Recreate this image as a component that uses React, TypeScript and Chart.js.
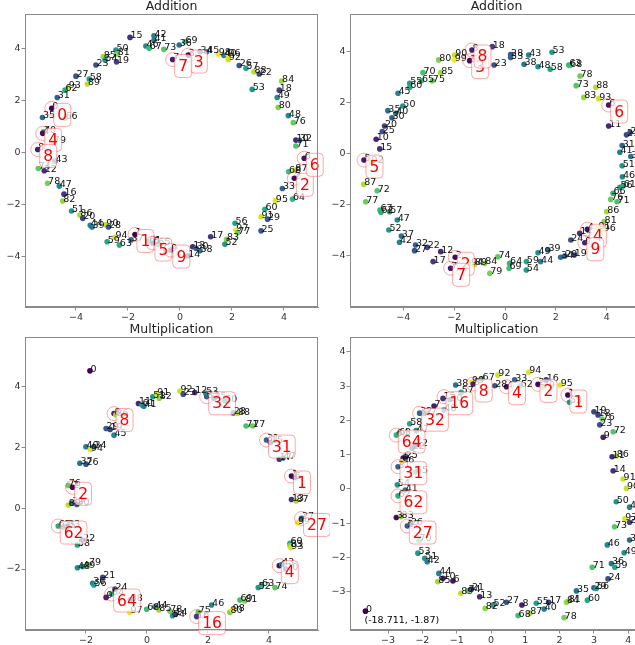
import React, { useEffect, useRef } from "react";
import { Chart, registerables } from "chart.js";
Chart.register(...registerables);

const FONT = "'DejaVu Sans', sans-serif";

// ---------- Panel 1 : Addition (left) ----------
const p1Ids = [15,42,41,46,67,73,36,69,7,3,34,45,98,40,96,92,26,57,88,22,84,18,49,53,27,58,89,50,85,81,54,19,23,93,62,31,0,35,66,70,4,79,8,43,74,12,78,47,16,82,80,48,76,10,32,71,6,68,87,2,33,95,64,51,86,20,44,39,90,28,94,59,63,37,1,61,5,65,9,13,30,38,14,17,56,97,77,83,52,60,91,29,25];
const p1X = [-1.92,-1.0,-1.0,-1.31,-1.18,-0.62,-0.03,0.19,-0.28,0.32,0.77,1.03,1.47,1.69,1.85,1.86,2.28,2.54,2.85,3.05,3.91,3.82,3.74,2.78,-4.0,-3.49,-3.56,-2.46,-2.95,-2.41,-2.88,-2.44,-3.23,-4.3,-4.42,-4.72,-4.93,-5.29,-4.42,-5.25,-5.28,-4.87,-5.47,-4.81,-5.45,-5.22,-5.09,-4.64,-4.46,-4.51,3.78,4.17,4.36,4.46,4.6,4.46,4.78,4.18,4.42,4.4,3.94,3.67,4.33,-4.17,-3.85,-3.74,-3.45,-3.38,-2.85,-2.75,-2.5,-2.8,-2.33,-1.88,-1.73,-1.2,-1.04,-0.85,-0.35,0.49,0.62,0.77,0.3,1.18,2.12,2.15,2.22,1.79,1.73,3.27,3.12,3.37,3.12];
const p1Y = [4.41,4.47,4.3,4.08,3.99,3.95,4.12,4.24,3.56,3.73,3.86,3.86,3.76,3.72,3.74,3.56,3.33,3.22,3.09,3.0,2.73,2.38,2.1,2.41,2.92,2.81,2.62,3.92,3.67,3.77,3.54,3.47,3.35,2.49,2.38,2.1,1.68,1.33,1.3,0.78,0.72,0.4,0.1,-0.35,-0.63,-0.72,-1.2,-1.31,-1.62,-1.88,1.72,1.4,1.13,0.46,0.45,0.23,-0.24,-0.76,-0.69,-1.01,-1.4,-1.87,-1.81,-2.27,-2.42,-2.55,-2.82,-2.88,-2.8,-2.88,-3.28,-3.45,-3.58,-3.38,-3.17,-3.45,-3.5,-3.55,-3.77,-3.64,-3.7,-3.8,-4.0,-3.26,-2.74,-3.0,-3.1,-3.36,-3.55,-2.2,-2.49,-2.58,-3.03];
const p1HlIds = [0,1,2,3,4,5,6,7,8,9];
const p1HlX = [-4.93,-1.73,4.4,0.32,-5.28,-1.04,4.78,-0.28,-5.47,-0.35];
const p1HlY = [1.68,-3.17,-1.01,3.73,0.72,-3.5,-0.24,3.56,0.1,-3.77];

// ---------- Panel 2 : Addition (right) ----------
const p2Ids = [8,18,90,99,3,80,23,28,33,43,53,38,48,58,63,68,78,73,88,83,93,6,70,85,55,65,75,60,45,50,35,40,30,20,25,10,15,5,92,87,72,77,11,21,26,31,41,36,51,46,56,61,66,76,71,67,62,57,47,52,37,42,32,27,22,12,17,2,7,94,89,84,74,79,64,69,59,54,49,39,44,34,29,24,19,14,4,9,91,96,81,86];
const p2X = [-1.3,-0.5,-1.98,-2.0,-1.39,-2.61,-0.43,0.22,0.22,0.93,1.85,0.75,1.3,1.78,2.51,2.55,2.95,2.8,3.57,3.1,3.69,4.08,-3.23,-2.53,-3.75,-3.29,-2.86,-3.75,-4.21,-4.02,-4.61,-4.3,-4.45,-4.74,-4.83,-5.07,-4.93,-5.55,-5.27,-5.56,-5.03,-5.48,4.08,4.78,4.92,4.61,4.52,4.95,4.61,4.62,4.52,4.65,4.25,4.16,4.41,-4.92,-4.88,-4.54,-4.24,-4.57,-4.08,-4.15,-3.52,-3.56,-3.06,-2.53,-2.83,-1.96,-2.14,-1.35,-1.2,-0.8,-0.28,-0.6,0.18,0.16,0.84,0.84,1.3,1.69,1.4,2.19,2.35,2.59,2.72,2.94,3.24,3.14,3.66,3.86,3.9,4.0];
const p2Y = [4.08,4.21,3.88,3.69,3.66,3.69,3.49,3.9,3.78,3.88,3.99,3.52,3.42,3.32,3.49,3.47,3.06,2.68,2.62,2.22,2.17,1.92,3.19,3.19,2.77,2.87,2.87,2.62,2.38,1.88,1.7,1.6,1.42,1.1,0.88,0.58,0.2,-0.24,-0.33,-1.19,-1.44,-1.87,1.1,0.75,0.84,0.33,0.07,-0.1,-0.46,-0.89,-1.31,-1.25,-1.54,-1.78,-1.87,-2.2,-2.28,-2.26,-2.59,-2.98,-3.22,-3.46,-3.57,-3.79,-3.66,-3.83,-4.22,-4.05,-4.48,-4.3,-4.33,-4.29,-4.03,-4.68,-4.29,-4.48,-4.22,-4.55,-3.87,-3.76,-4.22,-4.05,-4.0,-3.37,-3.96,-3.11,-2.95,-3.48,-2.91,-2.98,-2.65,-2.26];
const p2HlIds = [2,3,4,5,6,7,8,9];
const p2HlX = [-1.96,-1.39,3.24,-5.55,4.08,-2.14,-1.3,3.14];
const p2HlY = [-4.05,3.66,-2.95,-0.24,1.92,-4.48,4.08,-3.48];

// ---------- Panel 3 : Multiplication (left) ----------
const p3Ids = [0,92,23,12,53,32,25,50,51,91,82,11,61,41,28,88,71,77,8,86,29,19,45,40,94,34,37,26,76,2,89,39,30,31,15,17,47,1,5,13,87,27,99,62,35,33,58,22,48,49,79,21,36,56,24,64,9,38,97,68,44,85,78,54,14,75,16,46,80,98,69,81,52,63,74,4,43,20,60,83,93];
const p3X = [-1.87,1.08,1.19,1.57,1.93,1.96,2.2,2.55,0.19,0.32,0.4,-0.28,-0.16,-0.1,2.83,2.97,3.25,3.47,-1.08,-1.02,-1.34,-1.21,-1.08,-2.0,-1.85,-1.74,-2.2,-2.0,-2.58,-2.44,-2.58,-2.47,-2.3,3.92,4.05,4.34,4.46,4.74,4.85,4.74,4.89,5.07,4.94,-2.91,-2.75,-2.6,-2.28,-2.11,-2.28,-2.11,-1.92,-1.45,-1.78,-1.74,-1.05,-1.16,-1.34,-0.55,-0.56,-0.01,0.26,0.39,0.75,0.84,0.92,1.68,1.63,2.12,2.72,2.8,3.05,3.21,3.65,3.76,4.2,4.34,4.42,4.55,4.69,4.69,4.72];
const p3Y = [4.5,3.84,3.73,3.79,3.76,3.65,3.6,3.52,3.65,3.74,3.6,3.43,3.38,3.34,3.12,3.1,2.69,2.69,3.1,3.06,2.61,2.58,2.39,2.01,1.92,2.01,1.47,1.44,0.74,0.68,0.1,0.16,0.12,2.23,2.15,1.6,1.64,1.05,1.0,0.28,0.23,-0.34,-0.48,-0.59,-0.62,-0.6,-1.21,-1.05,-1.96,-1.92,-1.85,-2.27,-2.47,-2.52,-2.66,-2.82,-2.93,-3.0,-3.42,-3.32,-3.24,-3.34,-3.38,-3.53,-3.48,-3.42,-3.56,-3.18,-3.42,-3.34,-3.02,-3.05,-2.61,-2.52,-2.61,-1.89,-1.85,-2.0,-1.16,-1.24,-1.3];
const p3HlIds = [1,2,4,8,16,32,64,27,31,62];
const p3HlX = [4.74,-2.44,4.34,-1.08,1.63,1.96,-1.16,5.07,3.92,-2.91];
const p3HlY = [1.05,0.68,-1.89,3.1,-3.56,3.65,-2.82,-0.34,2.23,-0.59];

// ---------- Panel 4 : Multiplication (right) ----------
const p4Ids = [94,92,33,16,95,67,38,99,8,57,28,4,62,2,79,1,53,15,30,19,18,76,23,32,37,48,7,58,47,64,63,12,22,25,5,96,31,65,54,41,62,3,83,27,26,70,53,51,42,44,6,10,85,89,74,21,13,82,52,27,8,55,17,40,87,68,78,84,81,60,35,29,56,24,71,36,59,49,46,34,0,72,9,86,11,14,91,90,50,45,93,20,73];
const p4X = [1.1,0.2,0.69,1.61,2.02,-0.26,-1.03,-0.57,-0.52,-0.87,0.11,0.45,0.85,1.37,1.5,2.24,2.29,-1.4,-1.2,3.0,3.12,3.24,3.17,-2.08,-1.95,-1.37,-1.66,-2.37,-2.18,-2.76,-2.7,-2.2,-2.3,-2.5,-2.56,-2.6,-2.71,-2.2,-2.73,-2.5,-2.71,-2.76,-2.62,-2.44,-2.35,-2.1,-2.13,-1.93,-1.86,-1.52,-1.11,-1.4,-1.55,-0.88,-0.67,-0.57,-0.33,-0.17,0.06,0.45,0.9,1.32,1.68,1.55,1.13,0.79,2.13,2.2,2.25,2.81,2.49,3.0,3.07,3.41,2.95,3.51,3.61,3.88,3.39,4.04,-3.66,3.56,3.27,3.65,3.53,3.56,3.85,3.95,3.65,4.04,3.9,4.04,3.6];
const p4Y = [3.4,3.32,3.18,3.18,3.03,3.21,3.03,3.12,3.06,2.82,3.01,2.98,3.01,3.05,2.98,2.74,2.53,2.64,2.6,2.25,2.16,2.04,1.87,2.21,2.2,2.3,2.42,1.9,1.7,1.57,1.6,1.28,1.19,0.94,0.9,0.8,0.65,0.5,0.12,-0.03,-0.2,-0.83,-0.81,-1.08,-1.02,-1.5,-1.87,-2.02,-2.12,-2.46,-2.68,-2.6,-2.7,-3.04,-2.97,-2.92,-3.14,-3.48,-3.38,-3.3,-3.38,-3.33,-3.3,-3.5,-3.62,-3.69,-3.75,-3.3,-3.27,-3.24,-2.97,-2.88,-2.9,-2.62,-2.28,-2.17,-2.28,-1.86,-1.63,-1.49,-3.56,1.67,1.51,0.96,0.94,0.53,0.29,0.02,-0.37,-0.53,-0.87,-0.97,-1.1];
const p4HlIds = [1,2,4,8,16,32,64,31,62,27];
const p4HlX = [2.24,1.37,0.45,-0.52,-1.37,-2.08,-2.76,-2.71,-2.71,-2.44];
const p4HlY = [2.74,3.05,2.98,3.06,2.69,2.21,1.57,0.65,-0.2,-1.08];
const p4NoteText = ["(-18.711, -1.87)"];
const p4NoteX = [-3.66];
const p4NoteY = [-3.56];

// ---------- viridis colour map ----------
const VIR = ["#440154","#482475","#414487","#355f8d","#2a788e","#21918c","#22a884","#44bf70","#7ad151","#bddf26","#fde725"];
function hex(h: string) { return [1, 3, 5].map((i) => parseInt(h.slice(i, i + 2), 16)); }
function viridis(t: number) {
  const c = Math.max(0, Math.min(1, t)) * 10;
  const i = Math.min(9, Math.floor(c));
  const f = c - i;
  const a = hex(VIR[i]), b = hex(VIR[i + 1]);
  const m = a.map((v, k) => Math.round(v + (b[k] - v) * f));
  return `rgb(${m[0]},${m[1]},${m[2]})`;
}

type PanelCfg = {
  title: string;
  ids: number[]; xs: number[]; ys: number[];
  hlIds: number[]; hlX: number[]; hlY: number[];
  notes?: string[]; noteX?: number[]; noteY?: number[];
  xMin: number; xMax: number; yMin: number; yMax: number;
  xTicks: number[]; yTicks: number[];
  left: number; top: number; width: number; height: number;
  yAxisW: number; xAxisH: number; padTop: number; padRight: number;
};

const panels: PanelCfg[] = [
  { title: "Addition", ids: p1Ids, xs: p1X, ys: p1Y, hlIds: p1HlIds, hlX: p1HlX, hlY: p1HlY,
    xMin: -5.96, xMax: 5.31, yMin: -5.96, yMax: 5.31, xTicks: [-4, -2, 0, 2, 4], yTicks: [-4, -2, 0, 2, 4],
    left: 0, top: 0, width: 330, height: 323, yAxisW: 25, xAxisH: 16, padTop: 14, padRight: 12 },
  { title: "Addition", ids: p2Ids, xs: p2X, ys: p2Y, hlIds: p2HlIds, hlX: p2HlX, hlY: p2HlY,
    xMin: -6.1, xMax: 5.43, yMin: -6.0, yMax: 5.49, xTicks: [-4, -2, 0, 2, 4], yTicks: [-4, -2, 0, 2, 4],
    left: 320, top: 0, width: 330, height: 323, yAxisW: 30, xAxisH: 16, padTop: 14, padRight: 7 },
  { title: "Multiplication", ids: p3Ids, xs: p3X, ys: p3Y, hlIds: p3HlIds, hlX: p3HlX, hlY: p3HlY,
    xMin: -4.0, xMax: 5.61, yMin: -4.0, yMax: 5.61, xTicks: [-2, 0, 2, 4], yTicks: [-2, 0, 2, 4],
    left: 0, top: 322, width: 330, height: 323, yAxisW: 25, xAxisH: 15, padTop: 15, padRight: 12 },
  { title: "Multiplication", ids: p4Ids, xs: p4X, ys: p4Y, hlIds: p4HlIds, hlX: p4HlX, hlY: p4HlY,
    notes: p4NoteText, noteX: p4NoteX, noteY: p4NoteY,
    xMin: -4.11, xMax: 4.43, yMin: -4.11, yMax: 4.43, xTicks: [-3, -2, -1, 0, 1, 2, 3, 4], yTicks: [-3, -2, -1, 0, 1, 2, 3, 4],
    left: 320, top: 322, width: 330, height: 323, yAxisW: 30, xAxisH: 15, padTop: 15, padRight: 7 },
];

function fmt(v: number) { return v < 0 ? "\u2212" + Math.abs(v) : String(v); }

function roundRect(ctx: CanvasRenderingContext2D, x: number, y: number, w: number, h: number, r: number) {
  ctx.beginPath();
  ctx.moveTo(x + r, y);
  ctx.lineTo(x + w - r, y);
  ctx.quadraticCurveTo(x + w, y, x + w, y + r);
  ctx.lineTo(x + w, y + h - r);
  ctx.quadraticCurveTo(x + w, y + h, x + w - r, y + h);
  ctx.lineTo(x + r, y + h);
  ctx.quadraticCurveTo(x, y + h, x, y + h - r);
  ctx.lineTo(x, y + r);
  ctx.quadraticCurveTo(x, y, x + r, y);
  ctx.closePath();
}

function makePlugin(cfg: PanelCfg) {
  return {
    id: "annot",
    afterDatasetsDraw(chart: any) {
      const { ctx, chartArea } = chart;
      const sx = chart.scales.x, sy = chart.scales.y;
      ctx.save();
      // point labels
      ctx.font = `9.5px ${FONT}`;
      ctx.fillStyle = "#111";
      ctx.textAlign = "left";
      ctx.textBaseline = "alphabetic";
      cfg.ids.forEach((id, i) => {
        const px = sx.getPixelForValue(cfg.xs[i]);
        const py = sy.getPixelForValue(cfg.ys[i]);
        ctx.fillText(String(id), px + 0.5, py + 1);
      });
      // notes
      if (cfg.notes) {
        ctx.font = `9.5px ${FONT}`;
        ctx.fillStyle = "#000";
        cfg.notes.forEach((t, i) => {
          const px = sx.getPixelForValue(cfg.noteX![i]);
          const py = sy.getPixelForValue(cfg.noteY![i]);
          ctx.fillText(t, px - 1, py + 12);
        });
      }
      // highlights
      ctx.font = `15.5px ${FONT}`;
      cfg.hlIds.forEach((id, i) => {
        const px = sx.getPixelForValue(cfg.hlX[i]);
        const py = sy.getPixelForValue(cfg.hlY[i]);
        ctx.beginPath();
        ctx.arc(px, py, 7, 0, Math.PI * 2);
        ctx.strokeStyle = "rgba(255,0,0,0.35)";
        ctx.lineWidth = 1;
        ctx.stroke();
        const t = String(id);
        const tw = ctx.measureText(t).width;
        const bw = Math.max(17, tw + 7);
        const bh = 23;
        const bx = px + 2, by = py - 5;
        roundRect(ctx, bx, by, bw, bh, 4);
        ctx.fillStyle = "rgba(255,255,255,0.72)";
        ctx.fill();
        ctx.strokeStyle = "rgba(255,0,0,0.35)";
        ctx.stroke();
        ctx.fillStyle = "#ff0000";
        ctx.textAlign = "center";
        ctx.textBaseline = "middle";
        ctx.fillText(t, bx + bw / 2, by + bh / 2 + 1);
      });
      // frame
      ctx.strokeStyle = "#8a8a8a";
      ctx.lineWidth = 1;
      ctx.strokeRect(Math.round(chartArea.left) + 0.5, Math.round(chartArea.top) + 0.5,
        Math.round(chartArea.right - chartArea.left) - 1, Math.round(chartArea.bottom - chartArea.top) - 1);
      // title
      ctx.font = `12.5px ${FONT}`;
      ctx.fillStyle = "#222";
      ctx.textAlign = "center";
      ctx.textBaseline = "middle";
      ctx.fillText(cfg.title, (chartArea.left + chartArea.right) / 2, chartArea.top - 7);
      ctx.restore();
    },
  };
}

function Panel({ cfg }: { cfg: PanelCfg }) {
  const ref = useRef<HTMLCanvasElement | null>(null);
  useEffect(() => {
    if (!ref.current) return;
    const data = cfg.ids.map((_, i) => ({ x: cfg.xs[i], y: cfg.ys[i] }));
    const colors = cfg.ids.map((id) => viridis(id / 99));
    const tickFont = { family: FONT, size: 9.5 };
    const grid = { display: true, drawOnChartArea: false, drawTicks: true, tickLength: 3.5, color: "#8a8a8a", lineWidth: 1 };
    const chart = new Chart(ref.current, {
      type: "scatter",
      data: { datasets: [{ data, pointBackgroundColor: colors, pointBorderWidth: 0, pointRadius: 2.8, pointHoverRadius: 2.8 }] },
      options: {
        animation: false,
        responsive: false,
        maintainAspectRatio: false,
        events: [],
        layout: { padding: { top: cfg.padTop, right: cfg.padRight, left: 0, bottom: 0 } },
        plugins: { legend: { display: false }, tooltip: { enabled: false }, title: { display: false } },
        scales: {
          x: {
            type: "linear", min: cfg.xMin, max: cfg.xMax,
            grid, border: { display: true, color: "#8a8a8a" },
            ticks: { font: tickFont, color: "#333", padding: 1, maxRotation: 0, callback: (v: any) => fmt(Number(v)) },
            afterBuildTicks: (s: any) => { s.ticks = cfg.xTicks.map((v) => ({ value: v })); },
            afterFit: (s: any) => { s.height = cfg.xAxisH; },
          },
          y: {
            type: "linear", min: cfg.yMin, max: cfg.yMax,
            grid, border: { display: true, color: "#8a8a8a" },
            ticks: { font: tickFont, color: "#333", padding: 1, callback: (v: any) => fmt(Number(v)) },
            afterBuildTicks: (s: any) => { s.ticks = cfg.yTicks.map((v) => ({ value: v })); },
            afterFit: (s: any) => { s.width = cfg.yAxisW; },
          },
        },
      } as any,
      plugins: [makePlugin(cfg)],
    });
    return () => chart.destroy();
  }, [cfg]);
  return (
    <canvas
      ref={ref}
      width={cfg.width}
      height={cfg.height}
      style={{ position: "absolute", left: cfg.left, top: cfg.top, width: cfg.width, height: cfg.height }}
    />
  );
}

export default function App() {
  return (
    <div style={{ position: "fixed", left: 0, top: 0, width: 635, height: 645, overflow: "hidden", background: "#fff" }}>
      {panels.map((p, i) => (
        <Panel key={i} cfg={p} />
      ))}
    </div>
  );
}
